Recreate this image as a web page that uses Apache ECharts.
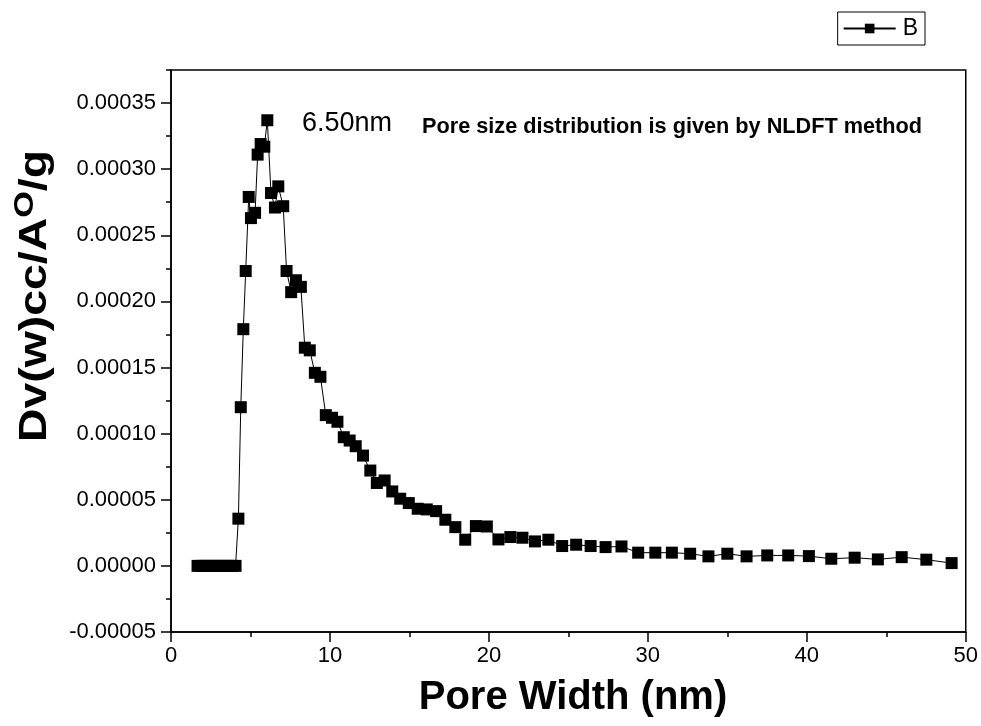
<!DOCTYPE html>
<html>
<head>
<meta charset="utf-8">
<script src="https://cdn.jsdelivr.net/npm/echarts@6/dist/echarts.min.js"></script>
<style>html,body{margin:0;padding:0;background:#fff}#c{width:981px;height:726px}</style>
</head>
<body>
<div id="c"></div>
<script>
// ---- data ----
var poreWidth = [1.67,1.91,2.15,2.39,2.63,2.87,3.11,3.35,3.59,3.83,4.06,
  4.24,4.39,4.55,4.70,4.89,5.03,5.29,5.45,5.64,5.87,6.06,6.29,6.54,6.75,7.06,7.27,7.56,7.86,8.17,
  8.42,8.73,9.05,9.40,9.74,10.13,10.47,10.87,11.24,11.62,12.08,12.54,12.95,13.44,13.92,14.42,14.96,
  15.52,16.09,16.68,17.26,17.89,18.51,19.18,19.87,20.60,21.35,22.11,22.90,23.74,24.61,25.49,26.40,
  27.34,28.34,29.39,30.47,31.51,32.66,33.81,35.00,36.21,37.51,38.83,40.13,41.54,43.01,44.47,45.97,
  47.52,49.11];
var dvw = [0,0,0,0,0,0,0,0,0,0,0,
  0.0000357,0.000120,0.000179,0.000223,0.000279,0.000263,0.000267,0.000311,0.000319,0.000317,0.000337,
  0.000282,0.000271,0.000287,0.000272,0.000223,0.000207,0.000216,0.000211,
  0.000165,0.000163,0.000146,0.000143,0.000114,0.000112,0.000109,0.0000973,0.0000948,0.0000905,
  0.0000834,0.0000721,0.0000627,0.0000646,0.0000563,0.0000508,0.0000475,
  0.0000432,0.0000427,0.0000414,0.0000349,0.0000293,0.0000198,0.0000301,0.0000298,0.0000200,0.0000218,
  0.0000213,0.0000185,0.0000198,0.0000150,0.0000160,0.0000150,
  0.0000142,0.0000147,0.0000100,0.0000100,0.0000100,0.0000092,0.0000072,0.0000092,0.0000072,0.0000079,
  0.0000079,0.0000074,0.0000054,0.0000062,0.0000049,0.0000066,0.0000047,0.0000021];
var seriesName = 'B';
var xTicks = [0,10,20,30,40,50];
var yMajorTicks = [-0.00005,0,0.00005,0.0001,0.00015,0.0002,0.00025,0.0003,0.00035];
var yMinorTicks = [-0.000025,0.000025,0.000075,0.000125,0.000175,0.000225,0.000275,0.000325,0.000375];
var xTitle = 'Pore Width (nm)';
var peakNote = '6.50nm';
var methodNote = 'Pore size distribution is given by NLDFT method';

var points = poreWidth.map(function (x, i) { return [x, dvw[i]]; });
var FONT = '"Liberation Sans", Arial, sans-serif';

var chart = echarts.init(document.getElementById('c'), null, {renderer: 'canvas'});
chart.setOption({
  animation: false,
  backgroundColor: '#fff',
  grid: {left: 171, right: 13, top: 70, bottom: 94, show: true, borderColor: '#000', borderWidth: 1.5, backgroundColor: 'transparent'},
  legend: {
    data: [seriesName], right: 56, top: 12, orient: 'horizontal',
    itemWidth: 52, itemHeight: 12, itemGap: 2,
    borderColor: '#000', borderWidth: 1, padding: [5, 7, 5, 5],
    textStyle: {fontFamily: FONT, fontSize: 23, color: '#000', padding: [0, 0, 0, 2]}
  },
  xAxis: {
    type: 'value', min: xTicks[0], max: xTicks[xTicks.length - 1], interval: 10,
    axisLine: {show: true, onZero: false, lineStyle: {color: '#000', width: 1.5}},
    axisTick: {show: true, inside: false, length: 10, lineStyle: {color: '#000', width: 1.5}},
    minorTick: {show: true, splitNumber: 2, length: 5, lineStyle: {color: '#000', width: 1.5}},
    splitLine: {show: false},
    axisLabel: {fontFamily: FONT, fontSize: 22, color: '#000', margin: 13}
  },
  yAxis: [{
    type: 'value', min: -0.00005, max: 0.000375,
    axisLine: {show: true, onZero: false, lineStyle: {color: '#000', width: 1.5}},
    axisTick: {show: true, inside: false, length: 10, customValues: yMajorTicks, lineStyle: {color: '#000', width: 1.5}},
    splitLine: {show: false},
    axisLabel: {fontFamily: FONT, fontSize: 22, color: '#000', margin: 15, customValues: yMajorTicks,
      formatter: function (v) { return v.toFixed(5); }}
  }, {
    type: 'value', min: -0.00005, max: 0.000375, position: 'left', offset: 0,
    axisLine: {show: false},
    axisTick: {show: true, inside: false, length: 5, customValues: yMinorTicks, lineStyle: {color: '#000', width: 1.5}},
    splitLine: {show: false},
    axisLabel: {show: false, customValues: yMinorTicks}
  }],
  series: [{
    name: seriesName, type: 'line', data: points, yAxisIndex: 0,
    symbol: 'rect', symbolSize: 12, showAllSymbol: true,
    lineStyle: {color: '#000', width: 1},
    itemStyle: {color: '#000'}
  }],
  graphic: [
    {type: 'text', left: 302, top: 110, style: {text: peakNote, font: '27px ' + FONT, fill: '#000'}},
    {type: 'text', left: 422, top: 116, style: {text: methodNote, font: 'bold 21.7px ' + FONT, fill: '#000'}},
    {type: 'text', x: 573, y: 698, style: {text: xTitle, font: 'bold 40px ' + FONT, fill: '#000', align: 'center', verticalAlign: 'middle'}},
    {type: 'text', x: 36, y: 296, rotation: Math.PI / 2, scaleX: 1.22,
      style: {text: 'Dv(w)cc/A{sup|O}/g', font: 'bold 38px ' + FONT, fill: '#000', align: 'center', verticalAlign: 'middle',
        rich: {sup: {font: 'bold 28px ' + FONT, fill: '#000', verticalAlign: 'bottom', padding: [0, 0, 22, 0]}}}}
  ]
});
</script>
</body>
</html>
